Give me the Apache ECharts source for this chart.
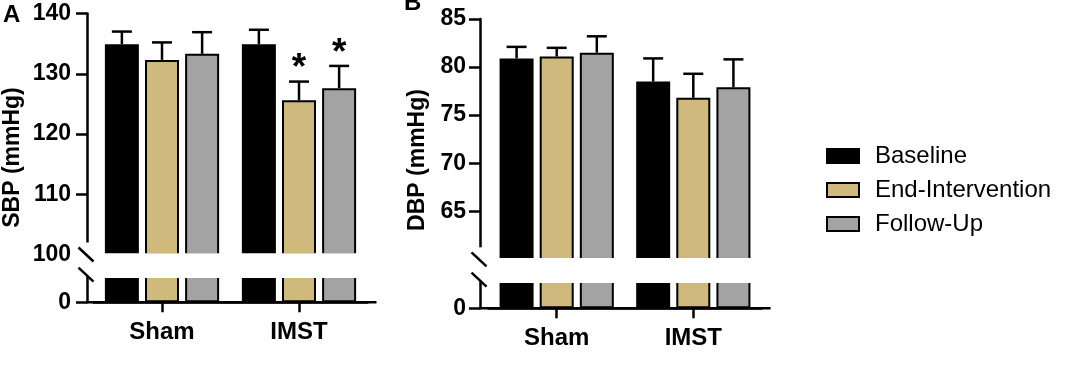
<!DOCTYPE html>
<html><head><meta charset="utf-8">
<script src="https://cdn.jsdelivr.net/npm/echarts@6/dist/echarts.min.js"></script>
<style>html,body{margin:0;padding:0;background:#fff}#c{width:1080px;height:373px}</style>
</head><body><div id="c"></div>
<script>
// ---------- data ----------
const categories = ['Sham', 'IMST'];
const seriesNames = ['Baseline', 'End-Intervention', 'Follow-Up'];

// Panel A: SBP (mmHg) means and error (SE) values
const sbpBaseline = [134.9, 134.9];
const sbpEndIntervention = [132.3, 125.6];
const sbpFollowUp = [133.3, 127.6];
const sbpBaselineErr = [2.1, 2.4];
const sbpEndInterventionErr = [2.9, 3.1];
const sbpFollowUpErr = [3.6, 3.7];
const sbpSignificant = [[0, 0], [0, 1], [0, 1]];
const sbpTickLabels = [100, 110, 120, 130, 140];

// Panel B: DBP (mmHg)
const dbpBaseline = [80.9, 78.5];
const dbpEndIntervention = [81.1, 76.8];
const dbpFollowUp = [81.5, 77.9];
const dbpBaselineErr = [1.2, 2.4];
const dbpEndInterventionErr = [0.9, 2.5];
const dbpFollowUpErr = [1.7, 2.9];
const dbpSignificant = [[0, 0], [0, 0], [0, 0]];
const dbpTickLabels = [65, 70, 75, 80, 85];

const lowerTickLabels = [0];

// ---------- style ----------
const colors = ['#000000', '#CFB97D', '#A3A3A3'];
const FONT = '"Liberation Sans", Arial, Helvetica, sans-serif';
const BAR_W = 34, BAR_GAP = 0.18;
const AXIS_W = 2.5;

const panels = [
  { means: [sbpBaseline, sbpEndIntervention, sbpFollowUp],
    errs: [sbpBaselineErr, sbpEndInterventionErr, sbpFollowUpErr],
    sig: sbpSignificant, labels: sbpTickLabels, ticks: sbpTickLabels.slice(1),
    min: 100, max: 140, interval: 10,
    left: 93.5, width: 274, top: 13.5, bottom: 254.5, lowTop: 276.7, lowBottom: 302.3,
    offset: 6.5, labelMargin: 16, title: 'A', titleX: 3, titleY: 3,
    yName: 'SBP (mmHg)', yNameX: 13, yNameY: 157.5 },
  { means: [dbpBaseline, dbpEndIntervention, dbpFollowUp],
    errs: [dbpBaselineErr, dbpEndInterventionErr, dbpFollowUpErr],
    sig: dbpSignificant, labels: dbpTickLabels, ticks: dbpTickLabels,
    min: 60, max: 85, interval: 5,
    left: 488.4, width: 273.2, top: 19, bottom: 259.3, lowTop: 281.7, lowBottom: 308.3,
    offset: 8.4, labelMargin: 14, title: 'B', titleX: 404, titleY: -9,
    yName: 'DBP (mmHg)', yNameX: 418, yNameY: 160 }
];

const grids = [], xAxes = [], yAxes = [], series = [], graphics = [];

function makeErrRenderer() {
  return function (params, api) {
    const cat = api.value(0), mean = api.value(1), up = api.value(2), s = api.value(3), sig = api.value(4);
    const base = api.coord([cat, mean]);
    const top = api.coord([cat, up]);
    const step = BAR_W * (1 + BAR_GAP);
    const total = 3 * BAR_W + 2 * BAR_W * BAR_GAP;
    const x = base[0] - total / 2 + BAR_W / 2 + s * step;
    const children = [
      { type: 'line', shape: { x1: x, y1: base[1], x2: x, y2: top[1] }, style: { stroke: '#000', lineWidth: 2.5 } },
      { type: 'line', shape: { x1: x - 10, y1: top[1], x2: x + 10, y2: top[1] }, style: { stroke: '#000', lineWidth: 2.5 } }
    ];
    if (sig) {
      children.push({ type: 'text', style: { text: '*', x: x, y: top[1] + 6, align: 'center', verticalAlign: 'bottom',
        font: 'bold 37px ' + FONT, fill: '#000' } });
    }
    return { type: 'group', children: children };
  };
}

panels.forEach(function (p, pi) {
  const gU = pi * 2, gL = pi * 2 + 1;
  grids.push({ left: p.left, width: p.width, top: p.top, height: p.bottom - p.top });
  grids.push({ left: p.left, width: p.width, top: p.lowTop, height: p.lowBottom - p.lowTop });

  xAxes.push({ type: 'category', gridIndex: gU, data: categories,
    axisLine: { show: false }, axisTick: { show: false }, axisLabel: { show: false } });
  xAxes.push({ type: 'category', gridIndex: gL, data: categories,
    axisLine: { show: true, lineStyle: { color: '#000', width: AXIS_W } },
    axisTick: { show: true, alignWithLabel: true, length: 10, lineStyle: { color: '#000', width: AXIS_W } },
    axisLabel: { show: true, color: '#000', fontFamily: FONT, fontWeight: 'bold', fontSize: 24, margin: 18 } });

  yAxes.push({ type: 'value', gridIndex: gU, min: p.min, max: p.max, interval: p.interval, offset: p.offset,
    splitLine: { show: false },
    axisLine: { show: true, lineStyle: { color: '#000', width: AXIS_W } },
    axisTick: { show: true, length: 11, customValues: p.ticks, lineStyle: { color: '#000', width: AXIS_W } },
    axisLabel: { show: true, customValues: p.labels, color: '#000', fontFamily: FONT, fontWeight: 'bold', fontSize: 23, margin: p.labelMargin } });
  yAxes.push({ type: 'value', gridIndex: gL, min: 0, max: 10, offset: p.offset,
    splitLine: { show: false },
    axisLine: { show: true, lineStyle: { color: '#000', width: AXIS_W } },
    axisTick: { show: true, length: 11, customValues: lowerTickLabels, lineStyle: { color: '#000', width: AXIS_W } },
    axisLabel: { show: true, customValues: lowerTickLabels, color: '#000', fontFamily: FONT, fontWeight: 'bold', fontSize: 23, margin: p.labelMargin } });

  const errData = [];
  for (let s = 0; s < 3; s++) {
    [gU, gL].forEach(function (g) {
      series.push({ type: 'bar', name: seriesNames[s], xAxisIndex: g, yAxisIndex: g,
        data: p.means[s], barWidth: BAR_W, barGap: (BAR_GAP * 100) + '%', clip: true,
        itemStyle: { color: colors[s], borderColor: '#000', borderWidth: 2 },
        emphasis: { disabled: true } });
    });
    for (let c = 0; c < categories.length; c++) {
      errData.push([c, p.means[s][c], p.means[s][c] + p.errs[s][c], s, p.sig[s][c]]);
    }
  }
  series.push({ type: 'custom', xAxisIndex: gU, yAxisIndex: gU, data: errData, z: 5,
    encode: { x: 0, y: [1, 2] }, renderItem: makeErrRenderer(), silent: true });

  const axisX = p.left - p.offset;
  // titles and axis names
  graphics.push({ type: 'text', z: 100, x: p.titleX, y: p.titleY,
    style: { text: p.title, font: 'bold 24px ' + FONT, fill: '#000' } });
  graphics.push({ type: 'text', z: 100, x: p.yNameX, y: p.yNameY, rotation: Math.PI / 2,
    style: { text: p.yName, font: 'bold 23px ' + FONT, fill: '#000', align: 'center', verticalAlign: 'middle' } });
  // x axis full extent
  graphics.push({ type: 'line', z: 100, shape: { x1: axisX - 1, y1: p.lowBottom, x2: p.left + p.width + 9, y2: p.lowBottom },
    style: { stroke: '#000', lineWidth: AXIS_W } });
  // cut edges of the broken bars (no border across the break)
  graphics.push({ type: 'rect', z: 98, shape: { x: p.left, y: p.bottom - 1.2, width: p.width, height: 3 },
    style: { fill: '#fff' } });
  graphics.push({ type: 'rect', z: 98, shape: { x: p.left, y: p.lowTop - 1.8, width: p.width, height: 3 },
    style: { fill: '#fff' } });
  // axis break
  graphics.push({ type: 'rect', z: 99, shape: { x: axisX - 3, y: p.bottom - 12, width: 6, height: 14 },
    style: { fill: '#fff' } });
  graphics.push({ type: 'line', z: 100, shape: { x1: axisX - 8.5, y1: p.bottom - 7, x2: axisX + 6.5, y2: p.bottom + 7 },
    style: { stroke: '#000', lineWidth: AXIS_W } });
  graphics.push({ type: 'line', z: 100, shape: { x1: axisX - 8.5, y1: p.lowTop - 9, x2: axisX + 6.5, y2: p.lowTop + 5 },
    style: { stroke: '#000', lineWidth: AXIS_W } });
});

const chart = echarts.init(document.getElementById('c'), null, { renderer: 'canvas' });
chart.setOption({
  animation: false,
  backgroundColor: '#fff',
  grid: grids, xAxis: xAxes, yAxis: yAxes, series: series,
  legend: { data: seriesNames, orient: 'vertical', left: 821, top: 139, itemWidth: 32, itemHeight: 14, itemGap: 10,
    icon: 'rect', selectedMode: false,
    textStyle: { color: '#000', fontFamily: FONT, fontSize: 24, padding: [0, 0, 0, 11] } },
  graphic: graphics
});
</script>
</body></html>
